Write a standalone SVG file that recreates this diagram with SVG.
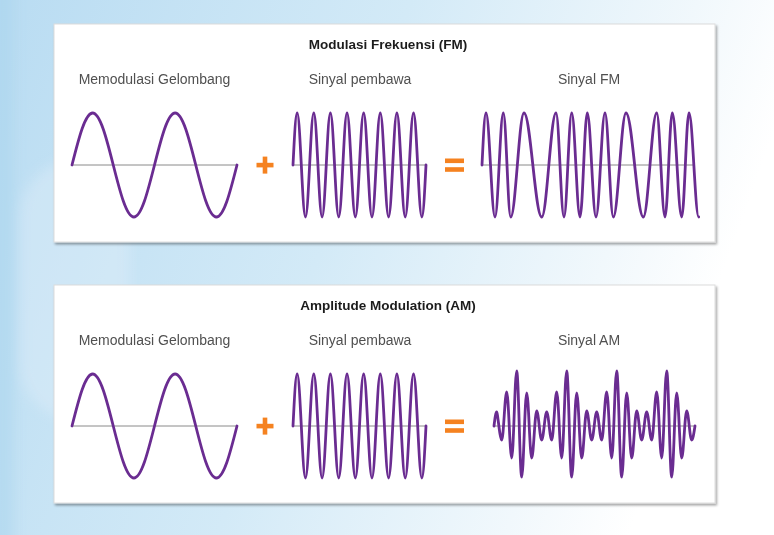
<svg xmlns="http://www.w3.org/2000/svg" width="774" height="535" viewBox="0 0 774 535">
  <defs>
    <linearGradient id="bg" x1="0" y1="0" x2="1" y2="0.25">
      <stop offset="0" stop-color="#b9dcf2"/>
      <stop offset="0.5" stop-color="#d3eaf7"/>
      <stop offset="0.85" stop-color="#f1f8fc"/>
      <stop offset="1" stop-color="#ffffff"/>
    </linearGradient>
    <filter id="shadow" x="-5%" y="-5%" width="110%" height="115%">
      <feDropShadow dx="1.5" dy="2" stdDeviation="1.2" flood-color="#000" flood-opacity="0.35"/>
    </filter>
    <filter id="soft" x="-50%" y="-50%" width="200%" height="200%">
      <feGaussianBlur stdDeviation="6"/>
    </filter>
    <style>
      .panel { fill: #ffffff; stroke: #dcdcdc; stroke-width: 1; filter: url(#shadow); }
      .title { font-family: "Liberation Sans", Arial, sans-serif; font-weight: bold; font-size: 13.5px; fill: #1c1c1c; text-anchor: middle; }
      .label { font-family: "Liberation Sans", Arial, sans-serif; font-size: 14px; fill: #505050; text-anchor: middle; }
      .axis { stroke: #8a8a8a; stroke-width: 1; fill: none; }
      .wave { stroke: #6a2c91; stroke-width: 2.8; fill: none; stroke-linecap: round; stroke-linejoin: round; }
      .op { fill: #f58220; }
    </style>
    <path id="modwave" d="M72,165 c6.895,-27.305 13.196,-52 20.625,-52 c15.015,0 26.235,104 41.25,104 s26.235,-104 41.25,-104 s26.235,104 41.25,104 c7.429,0 13.73,-24.695 20.625,-52"/>
    <path id="carrier" d="M293,165 c1.389,-27.305 2.659,-52 4.156,-52 c3.026,0 5.287,104 8.3125,104 s5.287,-104 8.3125,-104 s5.287,104 8.3125,104 s5.287,-104 8.3125,-104 s5.287,104 8.3125,104 s5.287,-104 8.3125,-104 s5.287,104 8.3125,104 s5.287,-104 8.3125,-104 s5.287,104 8.3125,104 s5.287,-104 8.3125,-104 s5.287,104 8.3125,104 s5.287,-104 8.3125,-104 s5.287,104 8.3125,104 s5.287,-104 8.3125,-104 s5.287,104 8.3125,104 c1.497,0 2.767,-24.695 4.156,-52"/>
    <g id="plus">
      <rect x="256.5" y="162.8" width="17" height="4.6"/>
      <rect x="262.7" y="156.6" width="4.6" height="17"/>
    </g>
    <g id="equals">
      <rect x="445" y="158.5" width="19" height="4.6"/>
      <rect x="445" y="167.2" width="19" height="4.6"/>
    </g>
  </defs>

  <rect x="0" y="0" width="774" height="535" fill="url(#bg)"/>
  <g id="background-shapes" filter="url(#soft)">
    <rect x="-30" y="-20" width="44" height="580" fill="#a8d3ed" opacity="0.5"/>
    <rect x="20" y="160" width="110" height="260" rx="55" fill="#e4f2fa" opacity="0.35"/>
  </g>

  <g id="panel-fm">
    <rect class="panel" x="54" y="24" width="661" height="218"/>
    <text class="title" x="388" y="49">Modulasi Frekuensi (FM)</text>
    <text class="label" x="154.5" y="84">Memodulasi Gelombang</text>
    <text class="label" x="360" y="84">Sinyal pembawa</text>
    <text class="label" x="589" y="84">Sinyal FM</text>
    <g id="fm-modulating">
      <line class="axis" x1="72" y1="165" x2="237" y2="165"/>
      <use href="#modwave" class="wave"/>
    </g>
    <use href="#plus" class="op"/>
    <g id="fm-carrier">
      <line class="axis" x1="293" y1="165" x2="426" y2="165"/>
      <use href="#carrier" class="wave"/>
    </g>
    <use href="#equals" class="op"/>
    <g id="fm-signal">
      <line class="axis" x1="482" y1="165" x2="693" y2="165"/>
      <path class="wave" d="M482,165 c1.34,-27.3 2.56,-52 4,-52 C489.28,113 491.72,217 495,217 C498.02,217 500.28,113 503.3,113 C505.99,113 508.01,217 510.7,217 C515.54,217 519.16,113 524,113 C530.44,113 535.26,217 541.7,217 C546.91,217 550.79,113 556,113 C558.91,113 561.09,217 564,217 C566.8,217 568.9,113 571.7,113 C574.72,113 576.98,217 580,217 C582.66,217 584.64,113 587.3,113 C590.47,113 592.83,217 596,217 C599.28,217 601.72,113 605,113 C608.02,113 610.28,217 613.3,217 C617.92,217 621.38,113 626,113 C632.3,113 637,217 643.3,217 C648.18,217 651.82,113 656.7,113 C659.72,113 661.98,217 665,217 C667.66,217 669.64,113 672.3,113 C675.72,113 678.28,217 681.7,217 C684.36,217 686.34,113 689,113 C692.53,113 695.17,217 698.7,217"/>
    </g>
  </g>

  <g id="panel-am" transform="translate(0,261)">
    <rect class="panel" x="54" y="24" width="661" height="218"/>
    <text class="title" x="388" y="49">Amplitude Modulation (AM)</text>
    <text class="label" x="154.5" y="84">Memodulasi Gelombang</text>
    <text class="label" x="360" y="84">Sinyal pembawa</text>
    <text class="label" x="589" y="84">Sinyal AM</text>
    <g id="am-modulating">
      <line class="axis" x1="72" y1="165" x2="237" y2="165"/>
      <use href="#modwave" class="wave"/>
    </g>
    <use href="#plus" class="op"/>
    <g id="am-carrier">
      <line class="axis" x1="293" y1="165" x2="426" y2="165"/>
      <use href="#carrier" class="wave"/>
    </g>
    <use href="#equals" class="op"/>
    <g id="am-signal">
      <line class="axis" x1="494" y1="165" x2="696" y2="165"/>
      <path class="wave" d="M494,165 c0.9,-7.35 1.73,-14 2.7,-14 S499.88,179 501.7,179 S504.88,131 506.7,131 S509.88,197 511.7,197 S514.88,110 516.7,110 S519.88,216 521.7,216 S524.88,132 526.7,132 S529.88,197 531.7,197 S534.88,150 536.7,150 S539.88,179 541.7,179 S544.88,151 546.7,151 S549.88,179 551.7,179 S554.88,131 556.7,131 S559.88,197 561.7,197 S564.88,110 566.7,110 S569.88,216 571.7,216 S574.88,132 576.7,132 S579.88,197 581.7,197 S584.88,150 586.7,150 S589.88,179 591.7,179 S594.88,151 596.7,151 S599.88,179 601.7,179 S604.88,131 606.7,131 S609.88,197 611.7,197 S614.88,110 616.7,110 S619.88,216 621.7,216 S624.88,132 626.7,132 S629.88,197 631.7,197 S634.88,150 636.7,150 S639.88,179 641.7,179 S644.88,151 646.7,151 S649.88,179 651.7,179 S654.88,131 656.7,131 S659.88,197 661.7,197 S664.88,110 666.7,110 S669.88,216 671.7,216 S674.88,132 676.7,132 S679.88,197 681.7,197 S684.88,150 686.7,150 S689.88,179 691.7,179 C692.9,179 693.9,172 695,165"/>
    </g>
  </g>
</svg>
